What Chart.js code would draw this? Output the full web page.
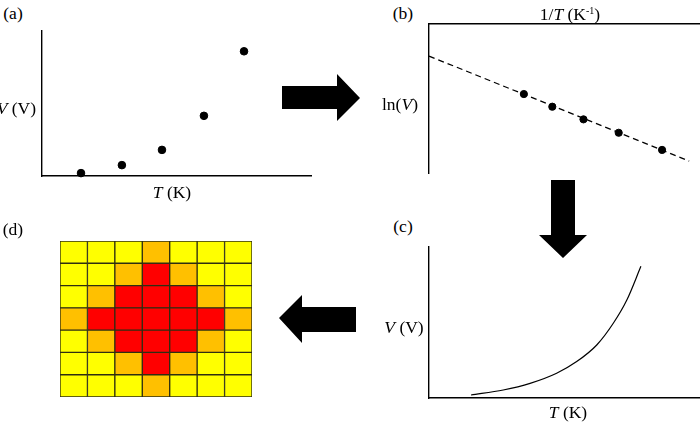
<!DOCTYPE html>
<html>
<head>
<meta charset="utf-8">
<script src="https://cdn.jsdelivr.net/npm/chart.js@4.4.1/dist/chart.umd.min.js"></script>
<style>
    html, body { margin: 0; padding: 0; background: #fff; }
    body { width: 700px; height: 424px; position: relative; overflow: hidden; }
    .panel { position: absolute; }
    .lbl { position: absolute; font-family: "Liberation Serif", "Times New Roman", "DejaVu Serif", serif; font-size: 17.5px; color: #000; white-space: nowrap; transform: translate(-50%, -50%); line-height: 1; }
    .lbl.right { transform: translate(-100%, -50%); }
    .lbl sup { font-size: 10px; vertical-align: 6px; line-height: 0; }
    .arrow { position: absolute; background: #000; }
</style>
</head>
<body>

<div class="panel" style="left:34px; top:23px;"><canvas id="chart-a" width="285" height="161"></canvas></div>
<div class="panel" style="left:421px; top:16px;"><canvas id="chart-b" width="287" height="165"></canvas></div>
<div class="panel" style="left:421px; top:239px;"><canvas id="chart-c" width="287" height="167"></canvas></div>
<div class="panel" style="left:52px; top:233px;"><canvas id="chart-d" width="208" height="172"></canvas></div>

<span class="lbl" style="left:13px; top:14px;">(a)</span>
<span class="lbl right" style="left:36px; top:109px;"><i>V</i> (V)</span>
<span class="lbl" style="left:172px; top:193px;"><i>T</i> (K)</span>

<span class="lbl" style="left:403px; top:14px;">(b)</span>
<span class="lbl" style="left:570px; top:15px;">1/<i>T</i> (K<sup>-1</sup>)</span>
<span class="lbl" style="left:400px; top:105px;">ln(<i>V</i>)</span>

<span class="lbl" style="left:403px; top:227px;">(c)</span>
<span class="lbl" style="left:404px; top:328px;"><i>V</i> (V)</span>
<span class="lbl" style="left:568px; top:413px;"><i>T</i> (K)</span>

<span class="lbl" style="left:13px; top:230px;">(d)</span>

<div class="arrow" style="left:282px; top:74px; width:78px; height:47px; clip-path: polygon(0 12px, 55px 12px, 55px 0, 78px 24px, 55px 47px, 55px 35px, 0 35px);"></div>
<div class="arrow" style="left:539px; top:180px; width:48px; height:78px; clip-path: polygon(12px 0, 36px 0, 36px 55px, 48px 55px, 24px 78px, 0 55px, 12px 55px);"></div>
<div class="arrow" style="left:279px; top:295px; width:77px; height:48px; clip-path: polygon(0 23px, 23px 0, 23px 12px, 77px 12px, 77px 37px, 23px 37px, 23px 48px);"></div>

<script>
    // (a) measured V vs T
    const tempA = [1.45, 2.97, 4.46, 6.02, 7.51];
    const voltA = [0.2, 0.75, 1.8, 4.15, 8.6];

    // (b) ln(V) vs 1/T with linear fit
    const invT = [3.5, 4.55, 5.7, 7.0, 8.6];
    const lnV = [5.3, 4.45, 3.6, 2.7, 1.55];
    const fitX = [0, 9.6];
    const fitY = [7.85, 0.8];

    // (c) reconstructed V(T) curve
    const tempC = [1.55, 2.74, 3.73, 4.71, 5.45, 6.19, 6.80, 7.30, 7.82];
    const voltC = [0.2, 0.53, 0.97, 1.64, 2.41, 3.51, 4.95, 6.49, 8.72];

    // (d) map, 0 = yellow, 1 = orange, 2 = red (top row first)
    const mapCols = ['1', '2', '3', '4', '5', '6', '7'];
    const mapRows = [
        [0, 0, 0, 1, 0, 0, 0],
        [0, 0, 1, 2, 1, 0, 0],
        [0, 1, 2, 2, 2, 1, 0],
        [1, 2, 2, 2, 2, 2, 1],
        [0, 1, 2, 2, 2, 1, 0],
        [0, 0, 1, 2, 1, 0, 0],
        [0, 0, 0, 1, 0, 0, 0]
    ];
    const levelColors = ['#ffff00', '#ffc000', '#ff0000'];

    const toPoints = (xs, ys) => xs.map((x, i) => ({ x: x, y: ys[i] }));

    function bareAxis(position, horizontal) {
        return {
            type: 'linear',
            position: position,
            min: 0,
            max: 10,
            grid: { display: false, drawTicks: false },
            ticks: { display: false },
            border: { display: true, color: '#000', width: 1.4 },
            afterFit: s => { if (horizontal) s.height = 0; else s.width = 0; }
        };
    }

    const baseOptions = {
        responsive: false,
        animation: false,
        devicePixelRatio: 1,
        layout: { padding: 8 },
        plugins: { legend: { display: false }, tooltip: { enabled: false } }
    };

    new Chart(document.getElementById('chart-a'), {
        type: 'scatter',
        data: {
            datasets: [{
                data: toPoints(tempA, voltA),
                backgroundColor: '#000',
                borderColor: '#000',
                pointRadius: 3.8,
                clip: false
            }]
        },
        options: { ...baseOptions, scales: { x: bareAxis('bottom', true), y: bareAxis('left', false) } }
    });

    new Chart(document.getElementById('chart-b'), {
        type: 'scatter',
        data: {
            datasets: [{
                data: toPoints(invT, lnV),
                backgroundColor: '#000',
                borderColor: '#000',
                pointRadius: 3.6,
                clip: false
            }, {
                data: toPoints(fitX, fitY),
                showLine: true,
                borderColor: '#000',
                borderWidth: 1.3,
                borderDash: [6, 4],
                pointRadius: 0,
                clip: false
            }]
        },
        options: { ...baseOptions, scales: { x: bareAxis('top', true), y: bareAxis('left', false) } }
    });

    new Chart(document.getElementById('chart-c'), {
        type: 'scatter',
        data: {
            datasets: [{
                data: toPoints(tempC, voltC),
                showLine: true,
                borderColor: '#000',
                borderWidth: 1.2,
                cubicInterpolationMode: 'monotone',
                pointRadius: 0,
                clip: false
            }]
        },
        options: { ...baseOptions, scales: { x: bareAxis('bottom', true), y: bareAxis('left', false) } }
    });

    // stacked bars, bottom row first
    const mapDatasets = mapRows.slice().reverse().map(row => ({
        data: row.map(() => 1),
        backgroundColor: row.map(l => levelColors[l]),
        borderColor: '#2e2e12',
        borderWidth: 1,
        borderSkipped: false,
        categoryPercentage: 1,
        barPercentage: 1
    }));

    new Chart(document.getElementById('chart-d'), {
        type: 'bar',
        data: { labels: mapCols, datasets: mapDatasets },
        options: {
            ...baseOptions,
            scales: {
                x: { stacked: true, display: false },
                y: { stacked: true, display: false, min: 0, max: mapRows.length }
            }
        }
    });
</script>
</body>
</html>
